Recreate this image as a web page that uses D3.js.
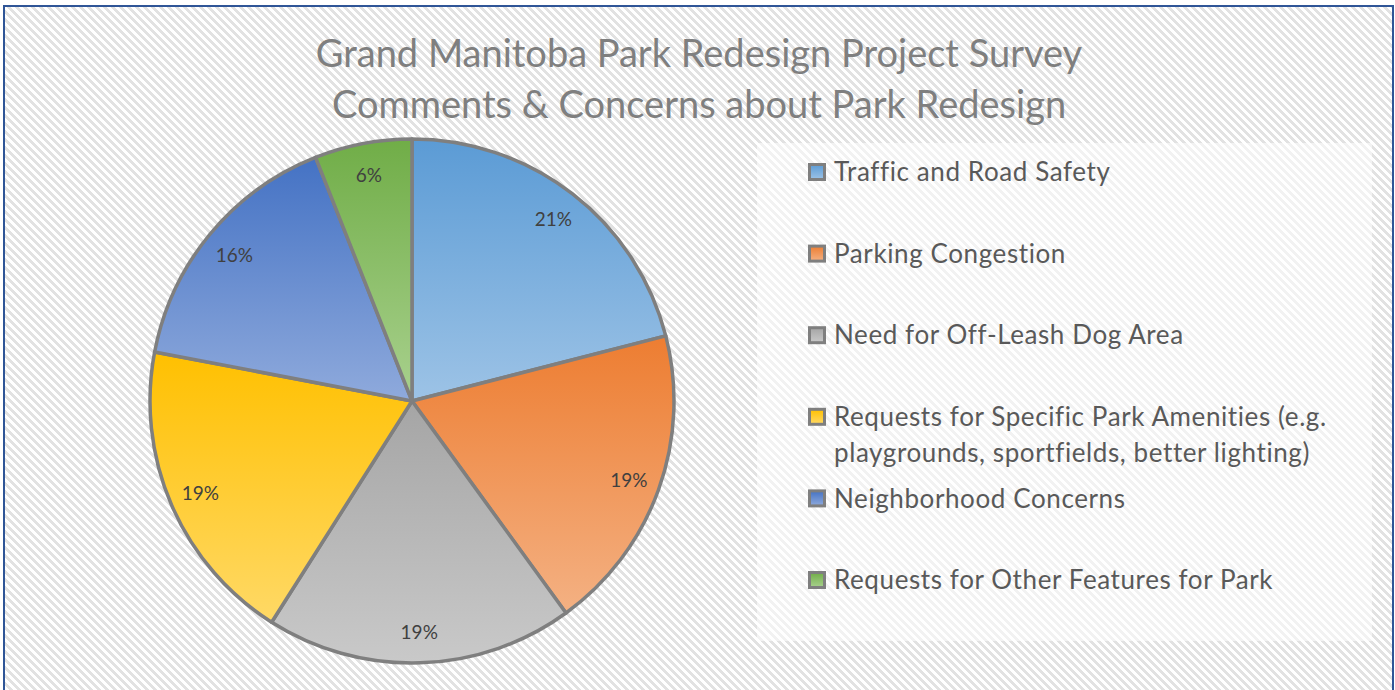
<!DOCTYPE html>
<html>
<head>
<meta charset="utf-8">
<script src="https://cdn.jsdelivr.net/npm/d3@7"></script>
<style>
  html, body { margin: 0; padding: 0; background: #fff; }
  svg { display: block; }
</style>
</head>
<body>
<div id="chart"></div>
<script>
const titleLines = ['Grand Manitoba Park Redesign Project Survey', 'Comments & Concerns about Park Redesign'];
const categories = [
  'Traffic and Road Safety',
  'Parking Congestion',
  'Need for Off-Leash Dog Area',
  'Requests for Specific Park Amenities (e.g. playgrounds, sportfields, better lighting)',
  'Neighborhood Concerns',
  'Requests for Other Features for Park'
];
const shares = [21, 19, 19, 19, 16, 6];
const topColors = ['#5b9bd5', '#ed7d31', '#a5a5a5', '#ffc000', '#4472c4', '#70ad47'];
const bottomColors = ['#9dc3e6', '#f4b183', '#c9c9c9', '#ffd966', '#8faadc', '#a9d18e'];

const W = 1395, H = 690;
const font = 'Lato, "Open Sans", sans-serif';

const svg = d3.select('#chart').append('svg')
  .attr('width', W)
  .attr('height', H);

const defs = svg.append('defs');

// hatched background, 8px stair-step tile
const pat = defs.append('pattern')
  .attr('id', 'hatch')
  .attr('patternUnits', 'userSpaceOnUse')
  .attr('width', 8)
  .attr('height', 8);
pat.append('rect').attr('width', 8).attr('height', 8).attr('fill', '#ffffff');
for (let y = 0; y < 8; y++) {
  for (let k = 0; k < 4; k++) {
    pat.append('rect')
      .attr('x', (y + k) % 8)
      .attr('y', y)
      .attr('width', 1)
      .attr('height', 1)
      .attr('fill', '#e2e2e2');
  }
}

shares.forEach((d, i) => {
  const g = defs.append('linearGradient')
    .attr('id', 'grad' + i)
    .attr('x1', 0).attr('y1', 0).attr('x2', 0).attr('y2', 1);
  g.append('stop').attr('offset', '0%').attr('stop-color', topColors[i]);
  g.append('stop').attr('offset', '100%').attr('stop-color', bottomColors[i]);
});

// frame
svg.append('rect')
  .attr('x', 4).attr('y', 6)
  .attr('width', 1389).attr('height', 700)
  .attr('fill', 'url(#hatch)')
  .attr('shape-rendering', 'crispEdges');
svg.append('rect')
  .attr('x', 4).attr('y', 6)
  .attr('width', 1389).attr('height', 700)
  .attr('fill', 'none')
  .attr('stroke', '#2f5597')
  .attr('stroke-width', 2);

// title
svg.append('g').selectAll('text')
  .data(titleLines)
  .enter()
  .append('text')
  .attr('x', 699)
  .attr('y', (d, i) => 67 + i * 51)
  .attr('text-anchor', 'middle')
  .style('font-family', font)
  .style('font-size', '38px')
  .attr('fill', '#7f7f7f')
  .text(d => d);

// pie
const cx = 412, cy = 401, R = 262;
const pie = d3.pie().sort(null).value(d => d);
const arc = d3.arc().innerRadius(0).outerRadius(R);
const labelArc = d3.arc().innerRadius(R * 0.88).outerRadius(R * 0.88);
const arcs = pie(shares);

const pieG = svg.append('g').attr('transform', `translate(${cx},${cy})`);

pieG.selectAll('path')
  .data(arcs)
  .enter()
  .append('path')
  .attr('d', arc)
  .attr('fill', (d, i) => `url(#grad${i})`)
  .attr('stroke', '#7f7f7f')
  .attr('stroke-width', 3.5)
  .attr('stroke-linejoin', 'round');

pieG.selectAll('text')
  .data(arcs)
  .enter()
  .append('text')
  .attr('transform', d => `translate(${labelArc.centroid(d)})`)
  .attr('text-anchor', 'middle')
  .attr('dy', '0.4em')
  .style('font-family', font)
  .style('font-size', '19px')
  .attr('fill', '#404040')
  .text(d => d.data + '%');

// legend
svg.append('rect')
  .attr('x', 757).attr('y', 143)
  .attr('width', 615).attr('height', 498)
  .attr('fill', '#ffffff')
  .attr('fill-opacity', 0.55);

const legendY = d3.scalePoint()
  .domain(d3.range(categories.length))
  .range([172, 580]);

const legend = svg.append('g');
const items = legend.selectAll('g')
  .data(categories)
  .enter()
  .append('g')
  .attr('transform', (d, i) => `translate(808,${legendY(i)})`);

items.append('rect')
  .attr('x', 1.5).attr('y', -7.5)
  .attr('width', 15).attr('height', 15)
  .attr('fill', (d, i) => `url(#grad${i})`)
  .attr('stroke', '#7f7f7f')
  .attr('stroke-width', 3);

const maxW = 530;
items.append('text')
  .attr('x', 26)
  .attr('y', 0)
  .style('font-family', font)
  .style('font-size', '26px')
  .style('letter-spacing', '0.6px')
  .attr('fill', '#595959')
  .each(function (d) {
    const t = d3.select(this);
    const words = d.split(' ');
    let line = [];
    let tspan = t.append('tspan').attr('x', 26).attr('dy', '0.35em');
    words.forEach(w => {
      line.push(w);
      tspan.text(line.join(' '));
      if (tspan.node().getComputedTextLength() > maxW && line.length > 1) {
        line.pop();
        tspan.text(line.join(' '));
        line = [w];
        tspan = t.append('tspan').attr('x', 26).attr('dy', '36px').text(w);
      }
    });
  });
</script>
</body>
</html>
